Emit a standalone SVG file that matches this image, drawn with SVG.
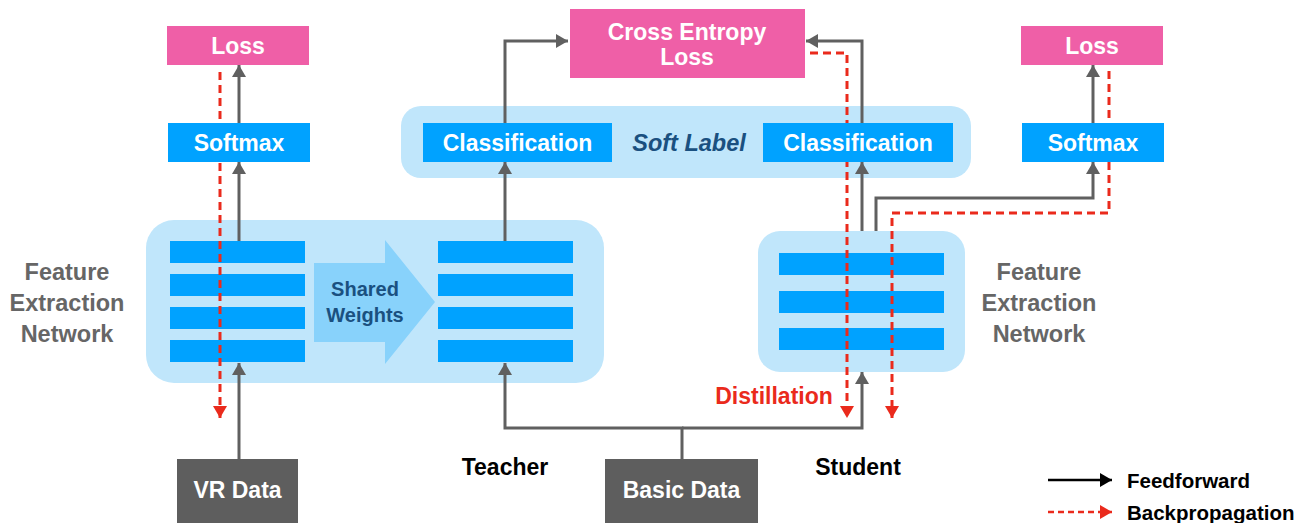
<svg xmlns="http://www.w3.org/2000/svg" width="1307" height="523" viewBox="0 0 1307 523">
<style>
.t{font-family:"Liberation Sans",Arial,sans-serif;font-weight:bold;text-anchor:middle;dominant-baseline:central}
.w{fill:#fff;font-size:23px}
.g{fill:#666;font-size:23.5px}
.k{fill:#000;font-size:23px}
.loss{fill:#ef5fa7}
.blue{fill:#00a2ff}
.cont{fill:#c0e6fb}
.data{fill:#5e5e5e}
.ff{fill:none;stroke:#606060;stroke-width:3}
.bp{fill:none;stroke:#ea2a1c;stroke-width:3;stroke-dasharray:8 5}
</style>
<defs>
<marker id="ag" viewBox="0 0 12 14" refX="12" refY="7" markerWidth="12" markerHeight="14" markerUnits="userSpaceOnUse" orient="auto"><path d="M0,0 L12,7 L0,14 z" fill="#606060"/></marker>
<marker id="ar" viewBox="0 0 12 14" refX="12" refY="7" markerWidth="12" markerHeight="14" markerUnits="userSpaceOnUse" orient="auto"><path d="M0,0 L12,7 L0,14 z" fill="#ea2a1c"/></marker>
<marker id="ak" viewBox="0 0 12 14" refX="12" refY="7" markerWidth="12" markerHeight="14" markerUnits="userSpaceOnUse" orient="auto"><path d="M0,0 L12,7 L0,14 z" fill="#000"/></marker>
</defs>
<rect width="1307" height="523" fill="#fff"/>

<g id="teacher-network">
<rect class="cont" x="146" y="220" width="458" height="163" rx="28"/>
<rect class="blue" x="170" y="241" width="135" height="22"/>
<rect class="blue" x="170" y="274" width="135" height="22"/>
<rect class="blue" x="170" y="307" width="135" height="22"/>
<rect class="blue" x="170" y="340" width="135" height="22"/>
<rect class="blue" x="438" y="241" width="135" height="22"/>
<rect class="blue" x="438" y="274" width="135" height="22"/>
<rect class="blue" x="438" y="307" width="135" height="22"/>
<rect class="blue" x="438" y="340" width="135" height="22"/>
</g>
<g id="shared-weights">
<path d="M314,263 H385 V240 L435,302 L385,364 V342 H314 z" fill="#88d2fb"/>
<text class="t" x="365" y="289" style="fill:#1a5080;font-size:20px">Shared</text>
<text class="t" x="365" y="315" style="fill:#1a5080;font-size:20px">Weights</text>
</g>
<g id="soft-label-group">
<rect class="cont" x="401" y="106" width="570" height="72" rx="20"/>
<text class="t" x="689" y="143" style="fill:#1a5080;font-size:23.5px;font-style:italic">Soft Label</text>
</g>
<g id="student-network">
<rect class="cont" x="758" y="231" width="207" height="141" rx="22"/>
<rect class="blue" x="779" y="253" width="165" height="22"/>
<rect class="blue" x="779" y="291" width="165" height="22"/>
<rect class="blue" x="779" y="328" width="165" height="22"/>
</g>

<g id="connectors">
<path class="ff" d="M239,459 V363" marker-end="url(#ag)"/>
<path class="ff" d="M239,241 V162" marker-end="url(#ag)"/>
<path class="ff" d="M239,123 V65" marker-end="url(#ag)"/>
<path class="ff" d="M682,459 V428 H505 V363" marker-end="url(#ag)"/>
<path class="ff" d="M682,428 H862 V372" marker-end="url(#ag)"/>
<path class="ff" d="M505,241 V162" marker-end="url(#ag)"/>
<path class="ff" d="M505,123 V41 H568" marker-end="url(#ag)"/>
<path class="ff" d="M862,123 V41 H806" marker-end="url(#ag)"/>
<path class="ff" d="M862,231 V162" marker-end="url(#ag)"/>
<path class="ff" d="M876,231 V198 H1093 V162" marker-end="url(#ag)"/>
<path class="ff" d="M1093,123 V65" marker-end="url(#ag)"/>
<path class="bp" d="M220,72 V418" marker-end="url(#ar)"/>
<path class="bp" d="M810,53 H847 V418" marker-end="url(#ar)"/>
<path class="bp" d="M1109,71 V213 H892 V418" marker-end="url(#ar)"/>
</g>

<g id="classification-teacher">
<rect class="blue" x="423" y="123" width="189" height="39"/>
<text class="t w" x="517.5" y="142.5">Classification</text>
</g>
<g id="classification-student">
<rect class="blue" x="763" y="123" width="190" height="39"/>
<text class="t w" x="858" y="142.5">Classification</text>
</g>
<g id="cross-entropy-loss">
<rect class="loss" x="570" y="9" width="235" height="69"/>
<text class="t w" x="687" y="32">Cross Entropy</text>
<text class="t w" x="687" y="57">Loss</text>
</g>
<g id="loss-left">
<rect class="loss" x="167" y="26" width="142" height="39"/>
<text class="t w" x="238" y="45.5">Loss</text>
</g>
<g id="softmax-left">
<rect class="blue" x="168" y="123" width="142" height="39"/>
<text class="t w" x="239" y="142.5">Softmax</text>
</g>
<g id="loss-right">
<rect class="loss" x="1021" y="26" width="142" height="39"/>
<text class="t w" x="1092" y="45.5">Loss</text>
</g>
<g id="softmax-right">
<rect class="blue" x="1022" y="123" width="142" height="39"/>
<text class="t w" x="1093" y="142.5">Softmax</text>
</g>
<g id="vr-data">
<rect class="data" x="177" y="459" width="121" height="64"/>
<text class="t w" x="237.5" y="490">VR Data</text>
</g>
<g id="basic-data">
<rect class="data" x="605" y="459" width="153" height="64"/>
<text class="t w" x="681.5" y="490">Basic Data</text>
</g>
<g id="labels">
<text class="t g" x="67" y="272">Feature</text>
<text class="t g" x="67" y="303">Extraction</text>
<text class="t g" x="67" y="334">Network</text>
<text class="t g" x="1039" y="272">Feature</text>
<text class="t g" x="1039" y="303">Extraction</text>
<text class="t g" x="1039" y="334">Network</text>
<text class="t k" x="505" y="467">Teacher</text>
<text class="t k" x="858" y="467">Student</text>
<text class="t" x="774" y="396" style="fill:#ea2a1c;font-size:23px">Distillation</text>
</g>

<g id="legend">
<path d="M1048,480 H1112" stroke="#000" stroke-width="2.5" fill="none" marker-end="url(#ak)"/>
<text class="t" x="1127" y="480" style="fill:#000;font-size:20.5px;text-anchor:start">Feedforward</text>
<path d="M1048,512 H1112" stroke="#ea2a1c" stroke-width="2.5" stroke-dasharray="6 4" fill="none" marker-end="url(#ar)"/>
<text class="t" x="1127" y="512" style="fill:#000;font-size:20.5px;text-anchor:start">Backpropagation</text>
</g>
</svg>
